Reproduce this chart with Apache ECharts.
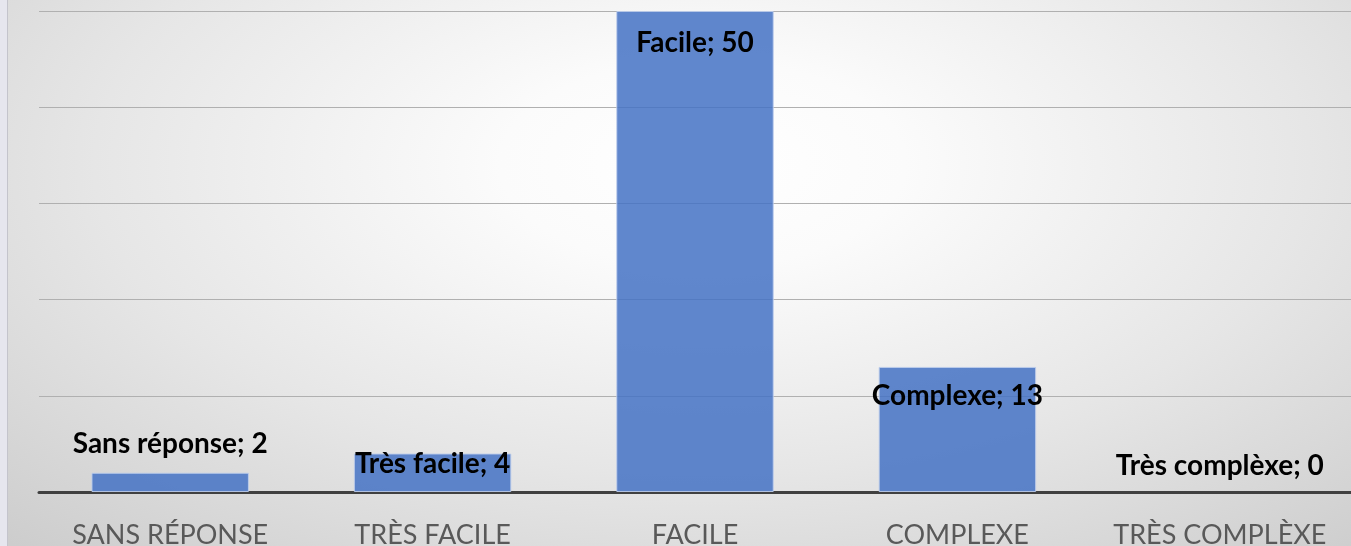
<!DOCTYPE html>
<html>
<head>
<meta charset="utf-8">
<script src="https://cdn.jsdelivr.net/npm/echarts@6/dist/echarts.min.js"></script>
<style>
html,body{margin:0;padding:0;width:1351px;height:546px;overflow:hidden;}
#chart{width:1351px;height:546px;
background: radial-gradient(ellipse 75% 95% at 52% 30%, #ffffff 0%, #fbfbfb 20%, #e6e6e6 60%, #cdcdcd 100%);}
</style>
</head>
<body>
<div id="chart"></div>
<script>
const categories = ['SANS RÉPONSE', 'TRÈS FACILE', 'FACILE', 'COMPLEXE', 'TRÈS COMPLÈXE'];
const labelNames = ['Sans réponse', 'Très facile', 'Facile', 'Complexe', 'Très complèxe'];
const values = [2, 4, 50, 13, 0];
const yMin = 0, yMax = 50, yInterval = 10;

// label vertical offsets (styling only)
const labelDy = [-15, 24, 46, 43, -12];

const chart = echarts.init(document.getElementById('chart'), null, {renderer: 'canvas'});
const seriesData = values.map((v, i) => ({
  value: v,
  label: { offset: [0, labelDy[i]] },
  itemStyle: v === 0 ? { borderWidth: 0 } : undefined
}));

chart.setOption({
  animation: false,
  backgroundColor: 'transparent',
  graphic: [
    { type: 'rect', left: 0, top: 0, shape: { width: 7, height: 546 }, style: { fill: '#e6e6ee' }, z: 100 },
    { type: 'rect', left: 7, top: 0, shape: { width: 1, height: 546 }, style: { fill: '#c4c4cc' }, z: 100 }
  ],
  grid: { left: 39, right: 0, top: 11, bottom: 54, containLabel: false, outerBoundsMode: 'none' },
  xAxis: {
    type: 'category',
    data: categories,
    axisLine: { show: true, lineStyle: { color: '#404040', width: 3 } },
    axisTick: { show: false },
    axisLabel: { color: '#595959', fontFamily: 'Lato', fontSize: 27, margin: 30, interval: 0 }
  },
  yAxis: {
    type: 'value',
    min: yMin, max: yMax, interval: yInterval,
    axisLine: { show: false },
    axisTick: { show: false },
    axisLabel: { show: false },
    splitLine: { show: true, lineStyle: { color: '#b0b0b0', width: 1 } }
  },
  series: [{
    type: 'bar',
    data: seriesData,
    barWidth: '60%',
    itemStyle: { color: 'rgba(68,114,196,0.85)', borderColor: 'rgba(190,205,235,0.9)', borderWidth: 1 },
    label: {
      show: true,
      position: 'top',
      distance: 0,
      color: '#000000',
      fontFamily: 'Lato',
      fontWeight: 'bold',
      fontSize: 28,
      formatter: p => labelNames[p.dataIndex] + '; ' + p.value
    },
    z: 3
  }]
});
</script>
</body>
</html>
